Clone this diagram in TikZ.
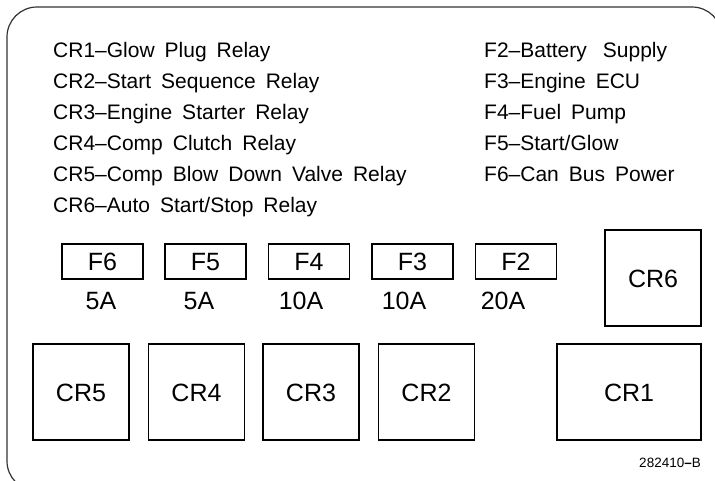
\documentclass[tikz,border=0pt]{standalone}
\usepackage{fontspec}
\setmainfont{Liberation Sans}
\newcommand\mylistfont{\fontsize{21}{24}\selectfont\setlength{\spaceskip}{10pt}}
\begin{document}
\begin{tikzpicture}[x=1pt,y=-1pt,
  listtext/.style={anchor=base west,inner sep=0pt,font=\mylistfont},
  fusebox/.style={draw,line width=1.4pt,minimum width=81pt,minimum height=35pt,inner sep=0pt,text height=18pt,text depth=0pt,font=\fontsize{25}{28}\selectfont},
  relaybox/.style={draw,line width=1.4pt,minimum width=96pt,minimum height=96pt,inner sep=0pt,text height=18pt,text depth=0pt,font=\fontsize{25}{28}\selectfont},
  amptext/.style={inner sep=0pt,text height=18pt,text depth=0pt,font=\fontsize{25}{28}\selectfont},
  idtext/.style={anchor=base east,inner sep=0pt,font=\fontsize{13.5}{15}\selectfont}]
\clip (0,0) rectangle (715,480);
\fill[white] (0,0) rectangle (715,480);
\draw[line width=1.2pt,black!80,rounded corners=30pt] (80,491) -- (7,491) -- (7,7) -- (722,7) -- (722,80);
% left list
\node[listtext] (l1) at (53,57) {CR1–Glow Plug Relay};
\node[listtext] (l2) at (53,88) {CR2–Start Sequence Relay};
\node[listtext] (l3) at (53,119) {CR3–Engine Starter Relay};
\node[listtext] (l4) at (53,150) {CR4–Comp Clutch Relay};
\node[listtext] (l5) at (53,181) {CR5–Comp Blow Down Valve Relay};
\node[listtext] (l6) at (53,212) {CR6–Auto Start/Stop Relay};
% right list
\node[listtext] (r1) at (484,57) {F2–Battery\hspace{6pt} Supply};
\node[listtext] (r2) at (484,88) {F3–Engine ECU};
\node[listtext] (r3) at (484,119) {F4–Fuel Pump};
\node[listtext] (r4) at (484,150) {F5–Start/Glow};
\node[listtext] (r5) at (484,181) {F6–Can Bus Power};
% fuses
\node[fusebox] (f6) at (102.5,261.5) {F6};
\node[fusebox] (f5) at (205.5,261.5) {F5};
\node[fusebox] (f4) at (309,261.5) {F4};
\node[fusebox] (f3) at (412.5,261.5) {F3};
\node[fusebox] (f2) at (516,261.5) {F2};
\node[amptext] (a6) at (101,300) {5A};
\node[amptext] (a5) at (199,300) {5A};
\node[amptext] (a4) at (301,300) {10A};
\node[amptext] (a3) at (404,300) {10A};
\node[amptext] (a2) at (503,300) {20A};
% relays
\node[relaybox] (cr5) at (81,392) {CR5};
\node[relaybox] (cr4) at (196.5,392) {CR4};
\node[relaybox] (cr3) at (311,392) {CR3};
\node[relaybox] (cr2) at (426.5,392) {CR2};
\node[relaybox,minimum width=144pt] (cr1) at (629,392) {CR1};
\node[relaybox] (cr6) at (653,278) {CR6};
\node[idtext] (id) at (701,467) {282410\textbf{–}B};
\end{tikzpicture}
\end{document}
